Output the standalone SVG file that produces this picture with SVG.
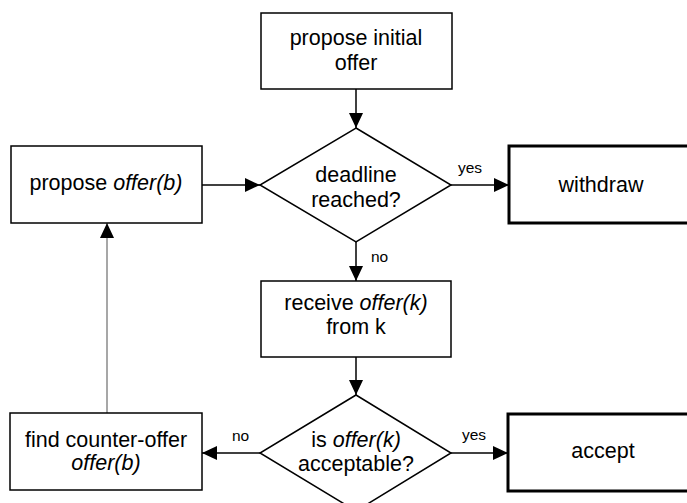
<svg xmlns="http://www.w3.org/2000/svg" width="687" height="503" viewBox="0 0 687 503">
  <defs>
    <marker id="arrow" markerUnits="userSpaceOnUse" markerWidth="16" markerHeight="14" refX="15" refY="7" orient="auto">
      <path d="M0,0 L15,7 L0,14 Z" fill="#000"/>
    </marker>
    <style>
      .box { fill: #fff; stroke: #000; stroke-width: 1.5; }
      .end { fill: #fff; stroke: #000; stroke-width: 3; }
      .dec { fill: #fff; stroke: #000; stroke-width: 1.5; }
      .lbl { font-family: "Liberation Sans", Arial, sans-serif; font-size: 21.5px; fill: #000; text-anchor: middle; }
      .edge-lbl { font-family: "Liberation Sans", Arial, sans-serif; font-size: 15.5px; fill: #000; }
      .conn { stroke: #000; stroke-width: 1.5; fill: none; marker-end: url(#arrow); }
      .conn-grey { stroke: #8a8a8a; stroke-width: 1.5; fill: none; marker-end: url(#arrow); }
      .it { font-style: italic; }
    </style>
  </defs>
  <rect width="687" height="503" fill="#fff"/>

  <!-- connectors -->
  <g id="connectors">
    <line class="conn" x1="356" y1="89" x2="356" y2="128"/>
    <line class="conn" x1="202" y1="185" x2="260" y2="185"/>
    <line class="conn" x1="451" y1="185" x2="509" y2="185"/>
    <line class="conn" x1="356" y1="242" x2="356" y2="281"/>
    <line class="conn" x1="356" y1="357" x2="356" y2="395"/>
    <line class="conn" x1="451" y1="453" x2="508" y2="453"/>
    <line class="conn" x1="260" y1="453" x2="202" y2="453"/>
    <line class="conn-grey" x1="107" y1="413" x2="107" y2="223"/>
    <text class="edge-lbl" x="458" y="173">yes</text>
    <text class="edge-lbl" x="371" y="262">no</text>
    <text class="edge-lbl" x="462" y="440">yes</text>
    <text class="edge-lbl" x="232" y="441">no</text>
  </g>

  <g id="propose-initial">
    <rect class="box" x="261" y="13" width="191" height="76"/>
    <text class="lbl" x="356" y="45">propose initial</text>
    <text class="lbl" x="356" y="70">offer</text>
  </g>

  <g id="deadline">
    <polygon class="dec" points="356,128 451,185 356,242 260,185"/>
    <text class="lbl" x="356" y="182">deadline</text>
    <text class="lbl" x="356" y="207">reached?</text>
  </g>

  <g id="propose-offer">
    <rect class="box" x="11" y="146" width="191" height="77"/>
    <text class="lbl" x="106" y="190">propose <tspan class="it">offer(b)</tspan></text>
  </g>

  <g id="withdraw">
    <rect class="end" x="509" y="146" width="200" height="77"/>
    <text class="lbl" x="601" y="192">withdraw</text>
  </g>

  <g id="receive">
    <rect class="box" x="261" y="281" width="190" height="76"/>
    <text class="lbl" x="356" y="310">receive <tspan class="it">offer(k)</tspan></text>
    <text class="lbl" x="356" y="334">from k</text>
  </g>

  <g id="acceptable">
    <polygon class="dec" points="356,395 451,453 356,511 260,453"/>
    <text class="lbl" x="356" y="447">is <tspan class="it">offer(k)</tspan></text>
    <text class="lbl" x="356" y="471">acceptable?</text>
  </g>

  <g id="accept">
    <rect class="end" x="508" y="414" width="200" height="77"/>
    <text class="lbl" x="603" y="458">accept</text>
  </g>

  <g id="counter-offer">
    <rect class="box" x="10" y="413" width="192" height="77"/>
    <text class="lbl" x="106" y="447">find counter-offer</text>
    <text class="lbl" x="106" y="470"><tspan class="it">offer(b)</tspan></text>
  </g>
</svg>
